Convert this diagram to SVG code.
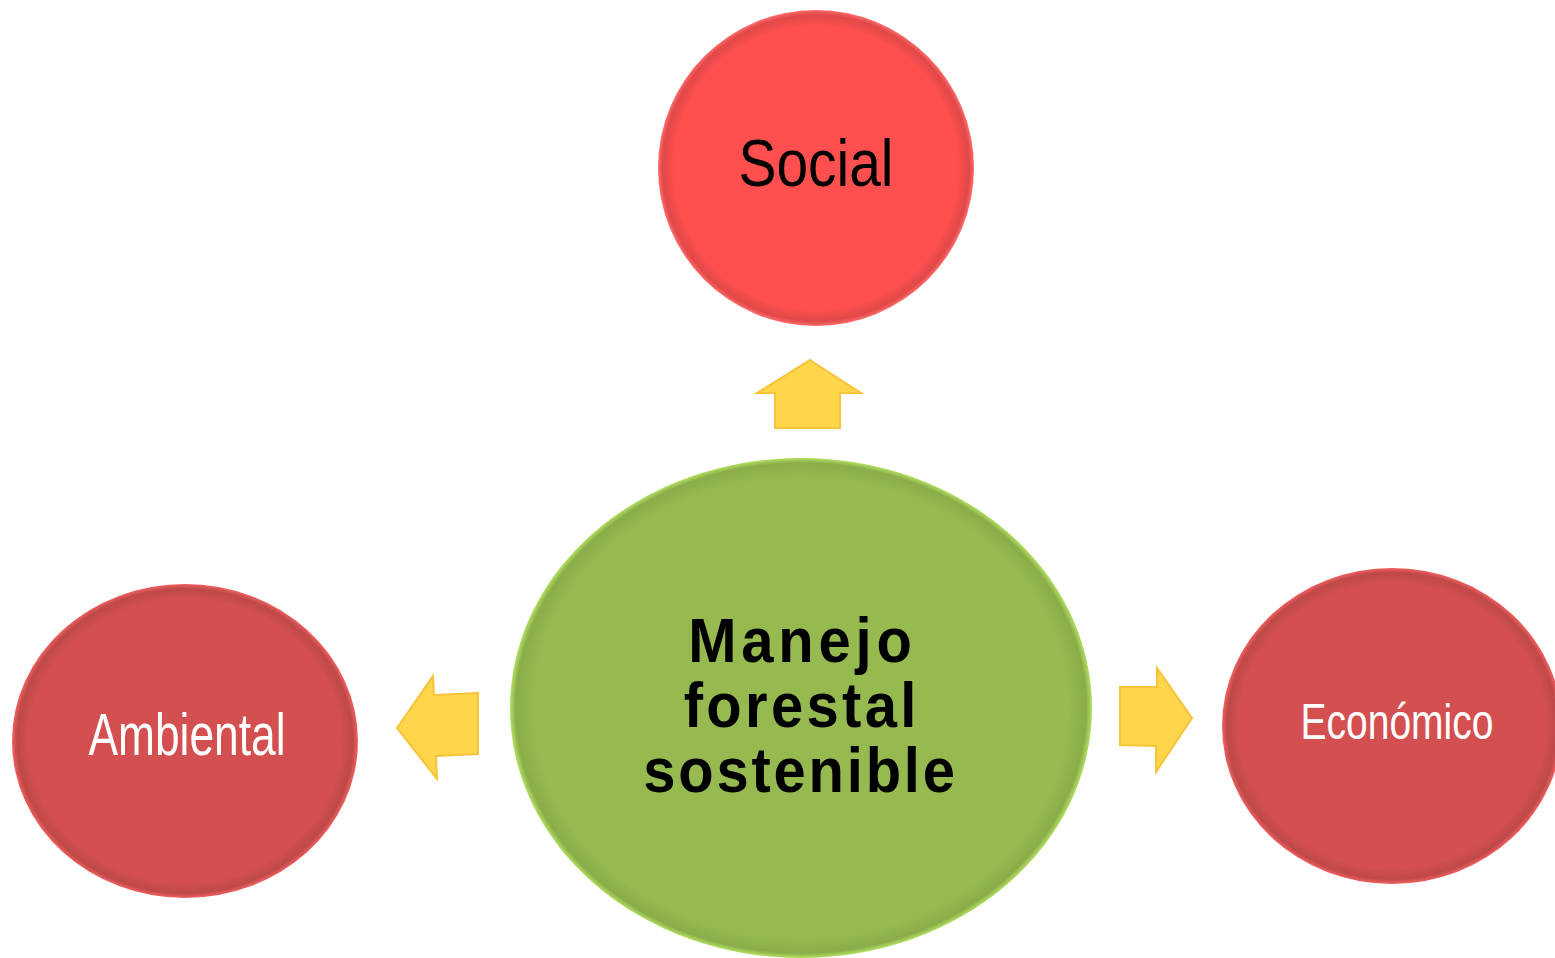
<svg xmlns="http://www.w3.org/2000/svg" width="1555" height="958" viewBox="0 0 1555 958">
<defs>
<radialGradient id="gRed" cx="50%" cy="50%" r="50%">
<stop offset="0.9" stop-color="#FF4F4F"/><stop offset="0.97" stop-color="#E04848"/><stop offset="1" stop-color="#FF6A6A"/>
</radialGradient>
<radialGradient id="gDark" cx="50%" cy="50%" r="50%">
<stop offset="0.9" stop-color="#D45050"/><stop offset="0.97" stop-color="#BF4848"/><stop offset="1" stop-color="#F06060"/>
</radialGradient>
<radialGradient id="gGreen" cx="50%" cy="50%" r="50%">
<stop offset="0.92" stop-color="#96BA50"/><stop offset="0.98" stop-color="#8AAD4A"/><stop offset="1" stop-color="#B2E060"/>
</radialGradient>
<style>
.arrow{fill:#FFD54A;stroke:#F5C43A;stroke-width:2;stroke-linejoin:miter}
.lbl{font-family:"Liberation Sans Narrow","Liberation Sans",Arial,sans-serif;text-anchor:middle}
.main{font-family:"Liberation Sans Narrow","Liberation Sans",Arial,sans-serif;font-weight:bold;text-anchor:middle;font-size:63px;fill:#000}
</style>
</defs>
<rect width="1555" height="958" fill="#FFFFFF"/>
<g id="connectors">
<polygon class="arrow" points="810,360 861,393 840,393 840,428 775,428 775,393 757,393"/>
<polygon class="arrow" points="397,728 433,676 434,695 478,693 478,754 436,756 437,779"/>
<polygon class="arrow" points="1192,718 1157,668 1157,687 1120,687 1120,745 1156,746 1156,772"/>
</g>
<g id="node-social">
<ellipse cx="816" cy="168" rx="158" ry="158" fill="url(#gRed)"/>
<text class="lbl" x="816" y="186" font-size="67" fill="#000" textLength="155" lengthAdjust="spacingAndGlyphs">Social</text>
</g>
<g id="node-ambiental">
<ellipse cx="185" cy="741" rx="173" ry="157" fill="url(#gDark)"/>
<text class="lbl" x="187" y="755" font-size="60" fill="#FFF" textLength="197" lengthAdjust="spacingAndGlyphs">Ambiental</text>
</g>
<g id="node-economico">
<ellipse cx="1392" cy="726" rx="170" ry="158" fill="url(#gDark)"/>
<text class="lbl" x="1397" y="739" font-size="50" fill="#FFF" textLength="193" lengthAdjust="spacingAndGlyphs">Económico</text>
</g>
<g id="node-manejo">
<ellipse cx="801" cy="708" rx="291" ry="250" fill="url(#gGreen)"/>
<g transform="translate(800,0) scale(0.92,1)">
<text class="main" x="0" y="662" textLength="243" lengthAdjust="spacing">Manejo</text>
<text class="main" x="0" y="727" textLength="253" lengthAdjust="spacing">forestal</text>
<text class="main" x="-1" y="792" textLength="339" lengthAdjust="spacing">sostenible</text>
</g>
</g>
</svg>
